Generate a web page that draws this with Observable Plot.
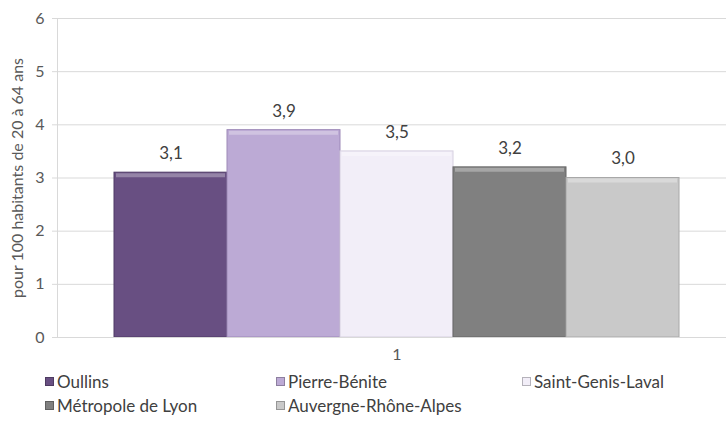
<!DOCTYPE html>
<html>
<head>
<meta charset="utf-8">
<script src="https://cdn.jsdelivr.net/npm/d3@7"></script>
<script src="https://cdn.jsdelivr.net/npm/@observablehq/plot@0.6"></script>
<style>
  body { margin: 0; background: #fff; font-family: Lato, "Open Sans", sans-serif; }
  #legend { position: relative; width: 726px; height: 58px; color: #404040; font-size: 17px; }
  .item { position: absolute; display: flex; align-items: center; height: 20px; }
  .sw { width: 9px; height: 9px; margin-right: 3px; box-sizing: border-box; border: 1px solid rgba(0,0,0,0.25); }
</style>
</head>
<body>
<div id="chart"></div>
<div id="legend"></div>
<script>
const categories = ["1"];
const seriesNames = ["Oullins", "Pierre-Bénite", "Saint-Genis-Laval", "Métropole de Lyon", "Auvergne-Rhône-Alpes"];
const seriesValues = [3.1, 3.9, 3.5, 3.2, 3.0];
const seriesColors = ["#684f82", "#bcaad5", "#f2eef8", "#808080", "#c9c9c9"];
const seriesStrokes = ["#4f3a66", "#9d89b8", "#d6d0e0", "#666666", "#a8a8a8"];
const yTicks = [0, 1, 2, 3, 4, 5, 6];
const yLabel = "pour 100 habitants de 20 à 64 ans";

const data = seriesNames.map((name, i) => ({ cat: categories[0], name, value: seriesValues[i] }));
const fmt = v => v.toFixed(1).replace(".", ",");

const chart = Plot.plot({
  width: 726,
  height: 370,
  marginLeft: 57,
  marginRight: 0,
  marginTop: 18,
  marginBottom: 33,
  style: { fontFamily: "Lato, 'Open Sans', sans-serif", color: "#595959", background: "#fff" },
  x: { domain: seriesNames, range: [113, 680], padding: 0, axis: null },
  y: { domain: [0, 6], axis: null },
  color: { domain: seriesNames, range: seriesColors },
  marks: [
    Plot.gridY(yTicks, { stroke: "#d9d9d9", strokeOpacity: 1 }),
    Plot.frame({ anchor: "left", stroke: "#d9d9d9" }),
    Plot.axisY(yTicks, { tickSize: 5, tickPadding: 8, fontSize: 16, stroke: "#d9d9d9", fill: "#595959", label: null, tickFormat: d => String(d) }),
    Plot.barY(data, { x: "name", y: "value", fill: "name", stroke: (d, i) => seriesStrokes[i], strokeWidth: 1 }),
    Plot.tickY(data, { x: "name", y: "value", stroke: "white", strokeOpacity: 0.3, strokeWidth: 4, dy: 2.5, inset: 2 }),
    Plot.ruleY([0], { stroke: "#d9d9d9" }),
    Plot.text(data, { x: "name", y: "value", text: d => fmt(d.value), dy: -19, fontSize: 17, fill: "#404040" }),
    Plot.text(categories, { frameAnchor: "bottom", text: d => d, dy: 22, dx: 5, fontSize: 16, fill: "#595959" }),
    Plot.text([yLabel], { frameAnchor: "left", textAnchor: "middle", text: d => d, rotate: -90, dx: -40, fontSize: 16, fill: "#595959" })
  ]
});
document.getElementById("chart").appendChild(chart);

const legend = document.getElementById("legend");
const legendPos = [[45, 1], [276, 1], [522, 1], [45, 25], [276, 25]];
seriesNames.forEach((name, i) => {
  const it = document.createElement("div");
  it.className = "item";
  it.style.left = legendPos[i][0] + "px";
  it.style.top = legendPos[i][1] + "px";
  const sw = document.createElement("span");
  sw.className = "sw";
  sw.style.background = seriesColors[i];
  const tx = document.createElement("span");
  tx.textContent = name;
  it.appendChild(sw);
  it.appendChild(tx);
  legend.appendChild(it);
});
</script>
</body>
</html>
